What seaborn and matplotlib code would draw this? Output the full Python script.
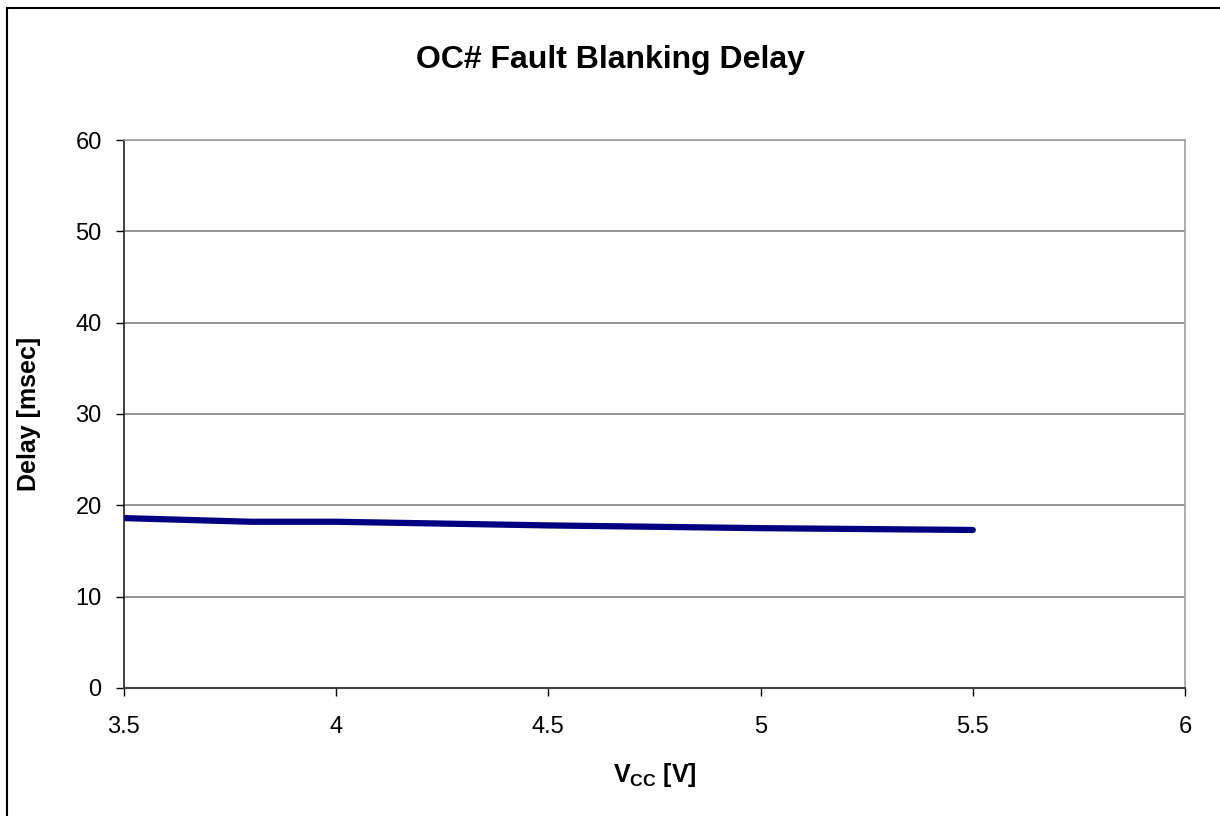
import matplotlib
matplotlib.use('Agg')
import matplotlib.pyplot as plt
import seaborn as sns
import pandas as pd
from matplotlib.patches import Rectangle

# Data
vcc = [3.5, 3.8, 4.0, 4.5, 5.0, 5.5]
delay = [18.6, 18.2, 18.2, 17.8, 17.5, 17.3]
x_ticks = [3.5, 4, 4.5, 5, 5.5, 6]
x_tick_labels = ['3.5', '4', '4.5', '5', '5.5', '6']
y_ticks = [0, 10, 20, 30, 40, 50, 60]

df = pd.DataFrame({'vcc': vcc, 'delay': delay})

sns.set_style('white')
plt.rcParams['font.family'] = ['Liberation Sans', 'DejaVu Sans']
plt.rcParams['text.color'] = 'black'
plt.rcParams['axes.labelcolor'] = 'black'
plt.rcParams['xtick.color'] = 'black'
plt.rcParams['ytick.color'] = 'black'
plt.rcParams['mathtext.fontset'] = 'custom'
plt.rcParams['mathtext.rm'] = 'Liberation Sans'
plt.rcParams['mathtext.bf'] = 'Liberation Sans:bold'

fig = plt.figure(figsize=(12.2, 8.16), dpi=100)
ax = fig.add_axes([0.1016, 0.1569, 0.8697, 0.6715])

# frame around the whole chart
fig.patches.append(Rectangle((0.006, -0.01), 1.1, 1.0, transform=fig.transFigure,
                             fill=False, edgecolor='black', linewidth=1.5))

sns.lineplot(data=df, x='vcc', y='delay', ax=ax, color='#000080', linewidth=4.5,
             solid_capstyle='round')

ax.set_xlim(3.5, 6)
ax.set_ylim(0, 60)
ax.set_xticks(x_ticks)
ax.set_xticklabels(x_tick_labels)
ax.set_yticks(y_ticks)
ax.yaxis.grid(True, color='#808080', linewidth=1.2)
ax.set_axisbelow(True)

for side in ['top', 'right']:
    ax.spines[side].set_color('#a0a0a0')
    ax.spines[side].set_linewidth(1.2)
ax.spines['left'].set_color('#202020')
ax.spines['bottom'].set_color('#404040')
ax.spines['left'].set_linewidth(1.2)
ax.spines['bottom'].set_linewidth(1.5)

ax.tick_params(axis='both', direction='out', length=6, width=1, color='black',
               labelsize=17, left=True, bottom=True)
ax.tick_params(axis='x', pad=14)
ax.tick_params(axis='y', pad=10)

ax.set_xlabel(r'$\mathbf{V_{CC}}$ [V]', fontsize=18, fontweight='bold', labelpad=17)
ax.set_ylabel('Delay [msec]', fontsize=18, fontweight='bold', labelpad=25)
fig.suptitle('OC# Fault Blanking Delay', fontsize=23, fontweight='bold', y=0.945)

fig.savefig('out.png', dpi=100)
